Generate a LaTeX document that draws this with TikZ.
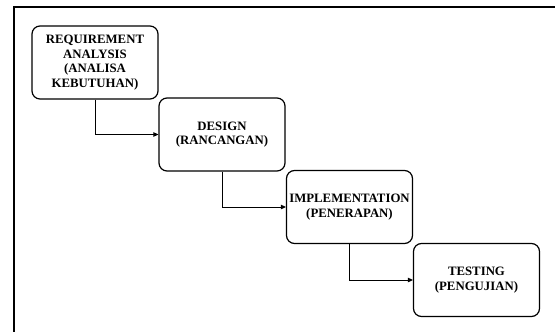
\documentclass[tikz,border=0pt]{standalone}
\usepackage{fontspec}
\setmainfont{Liberation Serif}
\usetikzlibrary{arrows.meta}
\begin{document}
\begin{tikzpicture}[x=1pt,y=-1pt,
  stage/.style={draw, line width=1.2pt, rounded corners=8pt, minimum width=126pt, minimum height=73pt, align=center, inner sep=0pt, font=\fontsize{12.8}{14.5}\selectfont\bfseries},
  conn/.style={draw, line width=1pt, -{Triangle[length=5pt,width=4.5pt]}}]
\useasboundingbox (0,0) rectangle (555,332);
\draw[line width=1.5pt] (14,332) -- (14,7) -- (555,7);
\node[stage] (req) at (95,62.5) {REQUIREMENT\\ANALYSIS\\(ANALISA\\KEBUTUHAN)};
\node[stage] (des) at (222,134.5) {DESIGN\\(RANCANGAN)};
\node[stage] (imp) at (349.5,207) {IMPLEMENTATION\\(PENERAPAN)};
\node[stage] (tes) at (476.5,280) {TESTING\\(PENGUJIAN)};
\draw[conn] (req.south) |- (des.west);
\draw[conn] (des.south) |- (imp.west);
\draw[conn] (imp.south) |- (tes.west);
\end{tikzpicture}
\end{document}
